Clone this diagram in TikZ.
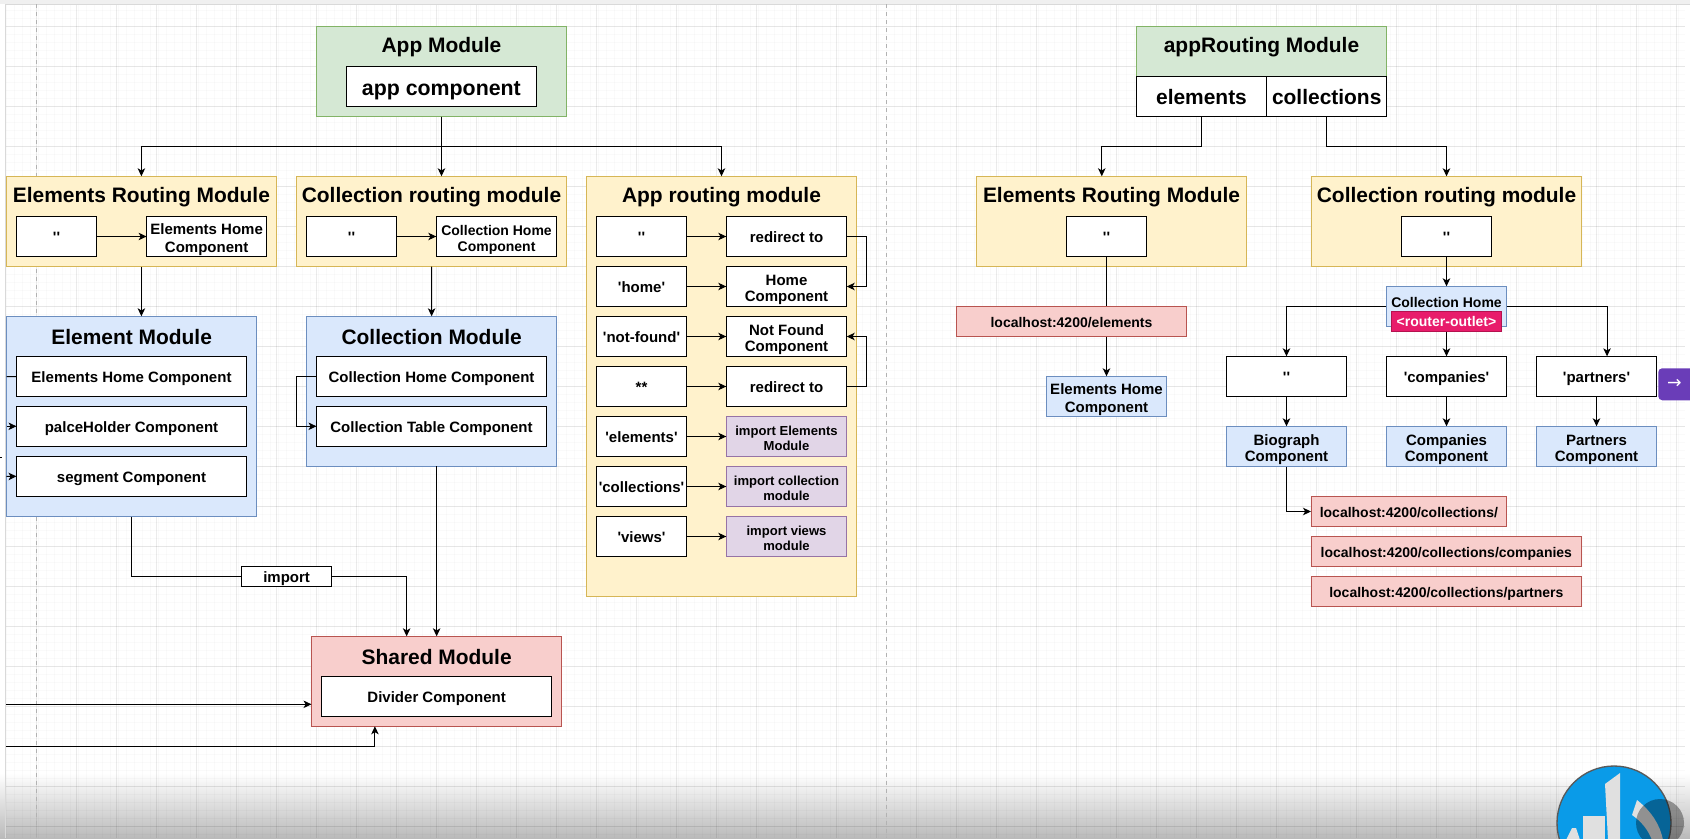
\documentclass[tikz,border=0pt]{standalone}
\usepackage{fontspec}
\setmainfont{Liberation Sans}[Ligatures=TeXOff]
\newfontfamily\symfont{DejaVu Sans}
\usepackage{tikz}
\usetikzlibrary{positioning,arrows.meta}

\definecolor{gfill}{HTML}{D5E8D4}
\definecolor{gline}{HTML}{82B366}
\definecolor{yfill}{HTML}{FFF2CC}
\definecolor{yline}{HTML}{D6B656}
\definecolor{bfill}{HTML}{DAE8FC}
\definecolor{bline}{HTML}{6C8EBF}
\definecolor{rfill}{HTML}{F8CECC}
\definecolor{rline}{HTML}{B85450}
\definecolor{pfill}{HTML}{E1D5E7}
\definecolor{pline}{HTML}{9673A6}
\definecolor{outlet}{HTML}{E81C6B}
\definecolor{outline}{HTML}{B5124F}
\definecolor{btnfill}{HTML}{6A3DB8}
\definecolor{logo}{HTML}{0A9BE8}

\newcommand{\lift}{\rule[-0.25em]{0pt}{1.3em}}
\newcommand{\liftmore}{\rule{0pt}{1.2em}}

\begin{document}
\begin{tikzpicture}[
x=0.75pt, y=-0.75pt,
wh/.style 2 args={minimum width=#1*0.75pt, minimum height=#2*0.75pt},
box/.style={
		draw=black,
		fill=white,
		anchor=north west,
		align=center,
		inner sep=0pt,
		outer sep=0pt,
		line width=0.75pt,
		font=\bfseries\fontsize{11.25}{12.2}\selectfont,
		execute at begin node=\lift,
		},
wide/.style={box, font=\bfseries\fontsize{16}{18}\selectfont},
green/.style={box, fill=gfill, draw=gline},
yellow/.style={box, fill=yfill, draw=yline},
blue/.style={box, fill=bfill, draw=bline},
red/.style={box, fill=rfill, draw=rline},
purple/.style={box, fill=pfill, draw=pline, font=\bfseries\fontsize{9.8}{11.2}\selectfont},
url/.style={red, font=\bfseries\fontsize{10.5}{12}\selectfont},
caption/.style={font=\bfseries\fontsize{15.7}{18}\selectfont, inner sep=0pt},
conn/.style={-{Stealth[length=6pt,width=5.6pt,inset=1.6pt]}, line width=0.75pt},
wire/.style={line width=0.75pt},
]

\path[use as bounding box, clip] (0,0) rectangle (1690,838);

% page, fade and grid
\fill[black!6] (0,0) rectangle (1690,4.5);
\shade[top color=white, bottom color=black!27] (0,773) rectangle (1690,838);
\foreach \i in {0,...,209}
  \draw[black, opacity=0.02] ({6+8*\i},4.5) -- ({6+8*\i},838);
\foreach \i in {0,...,103}
  \draw[black, opacity=0.02] (6,{10.7+8*\i}) -- (1685,{10.7+8*\i});
\foreach \i in {0,...,41}
  \draw[black, opacity=0.08] ({36.7+40*\i},4.5) -- ({36.7+40*\i},838);
\foreach \i in {0,...,20}
  \draw[black, opacity=0.08] (6,{26.7+40*\i}) -- (1685,{26.7+40*\i});
\draw[black!15] (5.7,838) -- (5.7,4.5) -- (1690,4.5);
\draw[black!30, dashed] (36.7,4.5) -- (36.7,838);
\draw[black!30, dashed] (886.7,4.5) -- (886.7,838);

% left part
\node[green, wh={250}{90.4}] (app) at (316.5,26.3) {};
\node[caption] (appt) at ([yshift=-15.6pt]app.north) {App Module};
\node[wide, wh={190.2}{40.4}] (appc) at (346.3,66.3) {app component};

\node[yellow, wh={269.8}{90.4}] (eroute) at (6.5,176.3) {};
\node[caption] (eroutet) at ([yshift=-15.6pt]eroute.north) {Elements Routing Module};
\node[box, wh={80}{40.4}] (eempty) at (16.5,216.3) {''};
\node[box, wh={120}{40.4}, font=\bfseries\fontsize{11.25}{13.5}\selectfont] (ehome) at (146.6,216.3) {\liftmore Elements Home\\Component};

\node[yellow, wh={269.8}{90.4}] (croute) at (296.6,176.3) {};
\node[caption] (croutet) at ([yshift=-15.6pt]croute.north) {Collection routing module};
\node[box, wh={90}{40.4}] (cempty) at (306.5,216.3) {''};
\node[box, wh={120.5}{40.4}, font=\bfseries\fontsize{10.5}{12.2}\selectfont] (chome) at (436.3,216.3) {\liftmore Collection Home\\Component};

\node[yellow, wh={270.4}{420.4}] (aroute) at (586.3,176.3) {};
\node[caption] (aroutet) at ([yshift=-15.6pt]aroute.north) {App routing module};
\foreach \i/\a/\b/\st in {
    1/''/redirect to/box,
    2/'home'/\liftmore Home\\Component/box,
    3/'not-found'/\liftmore Not Found\\Component/box,
    4/**/redirect to/box,
    5/'elements'/\liftmore import Elements\\Module/purple,
    6/'collections'/\liftmore import collection\\module/purple,
    7/'views'/\liftmore import views\\module/purple}
{
  \node[box, wh={90.4}{40.4}] (al\i) at (596.3,{216.3+50*(\i-1)}) {\a};
  \node[\st, wh={120.4}{40.4}] (ar\i) at (726.3,{216.3+50*(\i-1)}) {\b};
  \draw[conn] (al\i) -- (ar\i);
}
\draw[conn] (ar1.east) -- ++(20,0) |- (ar2.east);
\draw[conn] (ar4.east) -- ++(20,0) |- (ar3.east);

\node[blue, wh={250.3}{200.4}] (emod) at (6.5,316.3) {};
\node[caption] (emodt) at ([yshift=-15.6pt]emod.north) {Element Module};
\node[box, wh={230}{40.4}] (emhome) at (16.5,356.3) {Elements Home Component};
\node[box, wh={230}{40}] (emhold) at (16.5,406.3) {palceHolder Component};
\node[box, wh={230}{40}] (emseg) at (16.5,456.3) {segment Component};

\node[blue, wh={250.3}{150}] (cmod) at (306.5,316.3) {};
\node[caption] (cmodt) at ([yshift=-15.6pt]cmod.north) {Collection Module};
\node[box, wh={230}{40.4}] (cmhome) at (316.5,356.3) {Collection Home Component};
\node[box, wh={230}{40}] (cmtab) at (316.5,406.3) {Collection Table Component};

\node[red, wh={250.3}{90}] (shared) at (311.5,636.3) {};
\node[caption] (sharedt) at ([yshift=-15.6pt]shared.north) {Shared Module};
\node[box, wh={230.3}{40}] (sdiv) at (321.5,676.3) {Divider Component};
\node[box, wh={90.3}{20}] (imp) at (241.5,566.3) {import};

\coordinate (off1) at (6.5,376.5);
\coordinate (off2) at (6.5,426.3);
\coordinate (off3) at (6.5,476.5);
\coordinate (off4) at (6,704.3);
\coordinate (off5) at (6,746.3);
\coordinate (off6) at (0,457);
\coordinate (off7) at (1.5,457);

\draw[conn] (app.south) -- (app.south |- croute.north);
\draw[conn] (app.south) -- ++(0,29.6) -| (eroute.north);
\draw[conn] (app.south) -- ++(0,29.6) -| (aroute.north);
\draw[conn] (eempty) -- (ehome);
\draw[conn] (cempty) -- (chome);
\draw[conn] (eroute.south) -- (eroute.south |- emod.north);
\draw[conn] (croute.south) -- (cmod.north);
\draw[wire] (off1) -- (emhome.west);
\draw[conn] (off2) -- (emhold.west);
\draw[conn] (off3) -- (emseg.west);
\draw[wire] (off6) -- (off7);
\draw[conn] (cmhome.west) -- ++(-20,0) |- (cmtab.west);
\draw[wire] (emod.south) |- (imp.west);
\draw[conn] (imp.east) -| ([xshift=-22.5pt]shared.north);
\draw[conn] (shared.north |- cmod.south) -- (shared.north);
\draw[conn] (off4) -- (off4 -| shared.west);
\draw[conn] (off5) -| ([xshift=-46.3pt]shared.south);

% right part
\node[green, wh={250.4}{50}] (rapp) at (1136.3,26.3) {};
\node[caption] (rappt) at ([yshift=-15.6pt]rapp.north) {appRouting Module};
\node[wide, wh={130.4}{40.4}, font=\bfseries\fontsize{15.7}{18}\selectfont] (relem) at (1136.3,76.3) {elements};
\node[wide, wh={120}{40.4}, font=\bfseries\fontsize{15.7}{18}\selectfont] (rcoll) at (1266.7,76.3) {collections};

\node[yellow, wh={270.4}{90.4}] (reroute) at (976.3,176.3) {};
\node[caption] (reroutet) at ([yshift=-15.6pt]reroute.north) {Elements Routing Module};
\node[box, wh={80.4}{40.4}] (reempty) at (1066.3,216.3) {''};
\node[url, wh={230.4}{30.4}] (relocal) at (956.3,306.3) {localhost:4200/elements};
\node[blue, wh={120.4}{40.4}, font=\bfseries\fontsize{11.25}{13.5}\selectfont] (rehome) at (1046.3,376.3) {\liftmore Elements Home\\Component};

\node[yellow, wh={270.4}{90.4}] (rcroute) at (1311.3,176.3) {};
\node[caption] (rcroutet) at ([yshift=-15.6pt]rcroute.north) {Collection routing module};
\node[box, wh={90.4}{40.4}] (rcempty) at (1401.3,216.3) {''};
\node[blue, wh={120.4}{40.4}] (rchome) at (1386.3,286.3) {};
\node[font=\bfseries\fontsize{10.5}{12}\selectfont, inner sep=0pt] (rchomet) at ([yshift=-12pt]rchome.north) {Collection Home};
\node[box, fill=outlet, draw=outline, text=white, wh={110.4}{20.7}, font=\bfseries\fontsize{10.5}{12}\selectfont] (router) at (1391.3,311) {<router-outlet>};

\foreach \nm/\xx/\a/\b in {
    rb/1226.3/''/Biograph,
    rc/1386.3/'companies'/Companies,
    rp/1536.3/'partners'/Partners}
{
  \node[box, wh={120.4}{40.4}] (\nm p) at (\xx,356.3) {\a};
  \node[blue, wh={120.4}{40.4}] (\nm c) at (\xx,426.3) {\liftmore \b\\Component};
  \draw[conn] (\nm p) -- (\nm c);
}

\node[url, wh={195.7}{30.4}] (rlocal1) at (1311,496.3) {localhost:4200/collections/};
\node[url, wh={270.7}{30.4}] (rlocal2) at (1311,536.3) {localhost:4200/collections/companies};
\node[url, wh={270.7}{30.4}] (rlocal3) at (1311,576.3) {localhost:4200/collections/partners};

\draw[conn] (relem.south) -- ++(0,29.6) -| ([xshift=-7.3pt]reroute.north);
\draw[conn] (rcoll.south) -- ++(0,29.6) -| (rcroute.north);
\draw[wire] (reempty.south) -- (reempty.south |- relocal.north);
\draw[conn] (reempty.south |- relocal.south) -- (rehome.north);
\draw[conn] (rcempty) -- (rchome);
\draw[conn] (router) -- (rcp);
\draw[conn] (rchome.west |- 0,306.3) -| (rbp.north);
\draw[conn] (rchome.east |- 0,306.3) -| ([xshift=7.9pt]rpp.north);
\draw[conn] (rbc.south) |- (rlocal1.west);

% overlays of the screen
\node[fill=btnfill, rounded corners=3pt, anchor=north west, wh={36}{32}, inner sep=0pt, text=white, font=\symfont\fontsize{13}{13}\selectfont] (btn) at (1658,368) {\hspace{-3pt}→};

\fill[logo, draw=black!65, line width=1pt] (1614,823) circle (57);
\fill[black!12] (1583,816) rectangle (1605,840);
\fill[black!12] (1605,784) -- (1620,773) -- (1620,840) -- (1608,840) -- cycle;
\fill[black!12] (1566,840) -- (1572,828) -- (1576,828) -- (1580,840) -- cycle;
\fill[black!12] (1632,815) -- (1637,800) .. controls (1652,812) and (1660,825) .. (1663,840) -- (1652,840) .. controls (1648,830) and (1642,822) .. (1632,815) -- cycle;
\fill[black, opacity=0.35] (1660,823) circle (24);

\end{tikzpicture}
\end{document}
